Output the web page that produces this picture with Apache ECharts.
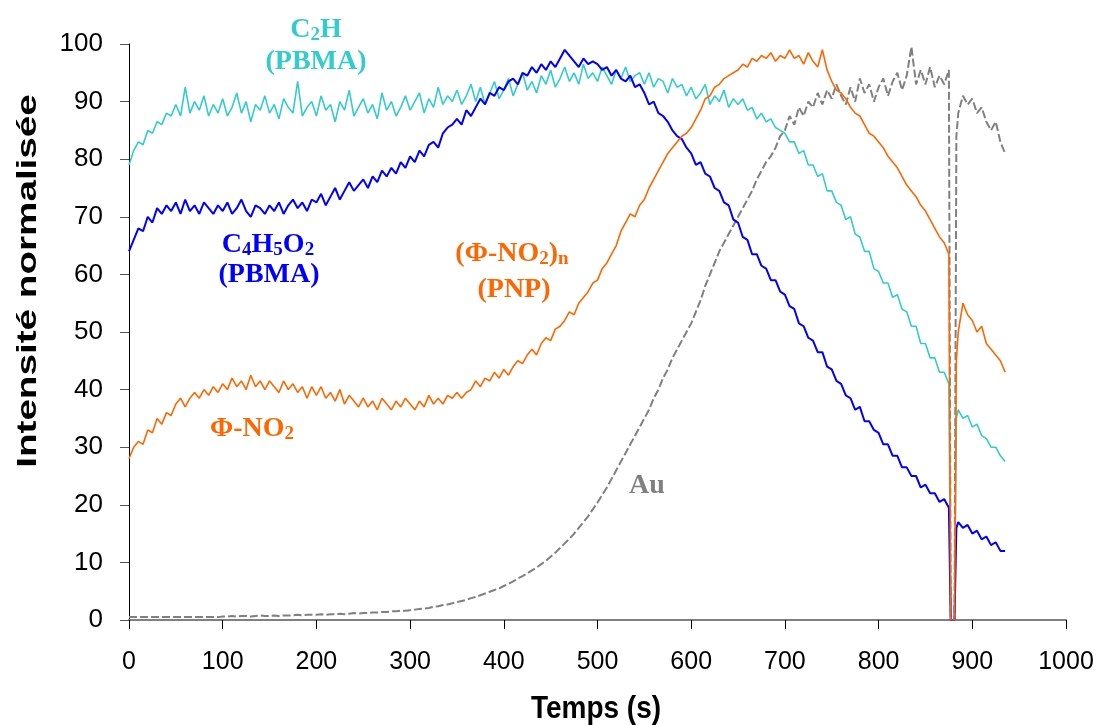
<!DOCTYPE html>
<html>
<head>
<meta charset="utf-8">
<script src="https://cdn.jsdelivr.net/npm/echarts@6/dist/echarts.min.js"></script>
<style>
html,body{margin:0;padding:0;background:#fff;}
#chart{width:1101px;height:725px;}
</style>
</head>
<body>
<div id="chart"></div>
<script>
// Sampling grid (s): regular 5 s steps up to 870 s, then the points around the signal drop
const timeGrid = [];
for (let s = 0; s <= 870; s += 5) timeGrid.push(s);
const timeTail = [875, 877, 881, 883, 885, 890, 895, 900, 905, 910, 915, 920, 925, 930, 935];
const time = timeGrid.concat(timeTail);

const xTicks = [0, 100, 200, 300, 400, 500, 600, 700, 800, 900, 1000];
const yTicks = [0, 10, 20, 30, 40, 50, 60, 70, 80, 90, 100];

// C2H (PBMA)
const c2h = [
  79, 81.5, 83, 82.5, 85, 84.5, 86.5, 86, 88, 87.5,
  89.5, 87.5, 92.5, 88, 90, 88.5, 91, 87.5, 89.5, 88,
  90.5, 87.5, 89, 91.5, 88, 90, 86.5, 89.5, 88.5, 91,
  88, 89.5, 87, 90.5, 89, 88, 93.5, 87.5, 89, 90,
  87.5, 91, 88.5, 89.5, 86.5, 90, 88.5, 92, 87.5, 89,
  90.5, 88, 89.5, 87, 91.5, 88.5, 90, 87.5, 89, 91,
  88.5, 90, 91.5, 88, 90.5, 89, 92.5, 89.5, 91, 90,
  92, 89.5, 91, 93, 90, 92.5, 89.5, 91.5, 93.5, 90.5,
  92, 94, 91, 93, 95, 92, 93.5, 91.5, 94.5, 93,
  95.5, 92.5, 94, 96, 93.5, 95, 93, 96.5, 94, 95,
  93.5, 96, 94.5, 93, 95.5, 94, 96, 93.5, 94.5, 95,
  93, 95, 92.5, 94, 93.5, 91.5, 94, 92.5, 93, 91,
  92.5, 90.5, 91.5, 93, 89.5, 91, 90, 92, 89, 90.5,
  89.5, 90.5, 88.5, 89, 87, 88, 86.5, 87, 85.5, 85,
  84.5, 83, 83, 81, 81.5, 79, 79, 77, 77.5, 74.5,
  74.5, 72.5, 72, 69.5, 70, 67, 66.5, 64, 64, 61,
  60.5, 58.5, 58.5, 56, 56.5, 54, 53.5, 51, 51, 48,
  48, 45.5, 45.5, 43, 43,
  41, 0, 0, 35, 36.5, 35, 35.5, 33.5, 34, 32, 31.5, 30, 30, 28.5, 27.5
];

// C4H5O2 (PBMA)
const c4h5o2 = [
  64, 66, 68, 67.5, 70, 69, 71.5, 70.5, 72, 71,
  72.5, 70.5, 73, 71, 72, 70.5, 72.5, 71.5, 70.5, 72,
  71, 72.5, 70.5, 71.5, 73, 71, 70, 72, 71.5, 70.5,
  72, 71, 72.5, 70.5, 72, 73, 71.5, 72.5, 71, 73,
  72.5, 74, 72, 73.5, 75, 73, 74.5, 76, 74.5, 75.5,
  76.5, 75, 77, 76, 78, 77, 78.5, 77.5, 79.5, 78.5,
  80.5, 79.5, 81.5, 80.5, 82.5, 83, 82, 84.5, 85.5, 86,
  87, 86, 88.5, 87.5, 89, 90.5, 89.5, 91.5, 91, 92.5,
  92, 93.5, 94, 93, 95, 94.5, 96, 95, 96.5, 95.5,
  97, 96, 97.5, 99, 98, 97, 96, 97.5, 96.5, 97,
  96.5, 95.5, 96, 94.5, 95.5, 94, 93.5, 94.5, 92.5, 93,
  91.5, 89.5, 90, 88, 87.5, 86.5, 85, 84, 83.5, 82,
  81, 79, 79.5, 77.5, 77, 75, 74.5, 72.5, 72, 69.5,
  69, 66.5, 66, 63.5, 63.5, 61.5, 61, 59, 59, 57,
  56.5, 54.5, 54, 51.5, 51, 49, 48.5, 46.5, 46.5, 44,
  43.5, 41.5, 41, 39, 38.5, 36.5, 37, 34.5, 34.5, 33,
  32.5, 30.5, 30.5, 28.5, 28.5, 26.5, 26.5, 25, 25, 23,
  23.5, 22, 22, 20.5, 21,
  19.5, 0, 0, 16, 17, 16, 16.5, 15, 15.5, 14, 14.5, 13, 13.5, 12, 12
];

// Φ-NO2 / (Φ-NO2)n (PNP)
const phiNO2 = [
  28, 30, 31, 30.5, 33, 32.5, 35, 34, 36, 35.5,
  37.5, 38.5, 37, 38.5, 39.5, 38.5, 40, 39, 40.5, 39.5,
  41, 40, 42, 40.5, 41.5, 40, 42.5, 40.5, 41.5, 40,
  41.5, 40.5, 39.5, 41.5, 40, 41, 39.5, 40.5, 38.5, 40.5,
  39, 40.5, 38.5, 39.5, 38, 40, 37.5, 39, 38, 37,
  38.5, 37, 38, 36.5, 38.5, 37.5, 36.5, 38, 37, 38.5,
  37.5, 36.5, 38, 37, 39, 37.5, 38.5, 37.5, 39, 38.5,
  39.5, 38.5, 39.5, 40, 41.5, 40.5, 42, 41.5, 43, 42,
  43.5, 42.5, 44, 45, 44.5, 46, 47, 46, 48, 49,
  48.5, 50.5, 51, 52, 53.5, 53, 55, 56, 57, 58.5,
  59, 61, 62, 63.5, 65, 67.5, 69, 70.5, 70, 72,
  73, 75, 76.5, 78, 79.5, 81, 82, 83, 84, 84.5,
  85.5, 87, 88.5, 90.5, 91, 92.5, 93, 94, 94.5, 95,
  95.5, 96.5, 96, 97.5, 97, 98, 97.5, 98.5, 97, 98,
  97.5, 99, 97.5, 98, 96.5, 98.5, 97, 96, 99, 95.5,
  93.5, 92, 91.5, 90.5, 89, 88, 87.5, 86, 84.5, 84,
  83, 82, 80.5, 79.5, 78.5, 77, 75.5, 74.5, 73.5, 72,
  71, 69.5, 68, 66.5, 65.5,
  63.5, 0, 0, 45, 50, 55, 53, 52, 50, 51, 48, 47, 46, 45, 43
];

// Au
const au = [
  0.5, 0.5, 0.5, 0.5, 0.5, 0.5, 0.5, 0.5, 0.5, 0.5,
  0.5, 0.5, 0.5, 0.5, 0.5, 0.5, 0.5, 0.5, 0.5, 0.5,
  0.6, 0.6, 0.7, 0.6, 0.7, 0.7, 0.6, 0.7, 0.8, 0.7,
  0.7, 0.8, 0.7, 0.8, 0.8, 0.8, 0.9, 0.8, 0.9, 0.9,
  0.9, 1, 0.9, 1, 1, 1.1, 1, 1.1, 1.2, 1.1,
  1.2, 1.2, 1.3, 1.3, 1.4, 1.4, 1.5, 1.5, 1.6, 1.6,
  1.7, 1.8, 1.9, 2, 2.1, 2.3, 2.4, 2.6, 2.7, 2.9,
  3.1, 3.3, 3.5, 3.8, 4, 4.3, 4.6, 4.9, 5.2, 5.5,
  5.9, 6.3, 6.7, 7.2, 7.6, 8.1, 8.6, 9.1, 9.7, 10.3,
  11, 11.7, 12.5, 13.3, 14.1, 15, 16, 17, 18, 19.2,
  20.4, 21.7, 23, 24.5, 26, 27.5, 29, 30.5, 32, 33.5,
  35, 36.5, 38.5, 40, 42, 43.5, 45.5, 47, 48.5, 50,
  51.5, 53.5, 55.5, 58, 60, 62, 64, 65.5, 67, 68.5,
  70, 71.5, 73, 74.5, 76.5, 78, 79.5, 80.5, 82, 84,
  85, 87.5, 86, 89, 87.5, 90, 89, 91.5, 89.5, 92,
  90.5, 93, 91, 89.5, 92.5, 90, 94, 91.5, 93, 90,
  92.5, 94, 91, 93.5, 95, 92, 94.5, 99.5, 93, 95.5,
  93, 96, 92.5, 94.5, 93,
  95.5, 0, 0, 84, 88, 91, 89.5, 90.5, 88, 89, 86.5, 85, 86.5, 83, 81
];

const colCyan = '#33CCCC';
const colBlue = '#0000FF';
const colOrange = '#FF6600';
const colGray = '#808080';

const pairs = vals => vals.map((v, i) => [time[i], v]);

const chart = echarts.init(document.getElementById('chart'), null, {renderer: 'canvas'});

const serif = '"Liberation Serif", "Times New Roman", serif';
function lab(text, x, y, color) {
  const rich = {
    m: {fill: color, fontFamily: serif, fontWeight: 'bold', fontSize: 28, lineHeight: 30},
    s: {fill: color, fontFamily: serif, fontWeight: 'bold', fontSize: 19, lineHeight: 6, verticalAlign: 'bottom'}
  };
  return {type: 'text', x: x, y: y, z: 100,
    style: {text: text, rich: rich, fill: color, align: 'center', verticalAlign: 'middle',
      fontFamily: serif, fontWeight: 'bold', fontSize: 28}};
}

chart.setOption({
  animation: false,
  backgroundColor: '#ffffff',
  grid: {left: 129, right: 35, top: 44, bottom: 105, containLabel: false},
  xAxis: {
    type: 'value', min: xTicks[0], max: xTicks[xTicks.length - 1], interval: 100,
    axisLine: {show: true, onZero: false, lineStyle: {color: '#808080', width: 2}},
    axisTick: {show: true, inside: false, length: 9, lineStyle: {color: '#000', width: 1}},
    axisLabel: {fontFamily: '"Liberation Sans", Arial, sans-serif', fontSize: 25, color: '#000', margin: 30,
      formatter: v => String(v)},
    splitLine: {show: false}
  },
  yAxis: {
    type: 'value', min: yTicks[0], max: yTicks[yTicks.length - 1], interval: 10,
    axisLine: {show: true, onZero: false, lineStyle: {color: '#000', width: 1}},
    axisTick: {show: true, inside: false, length: 9, lineStyle: {color: '#555', width: 1}},
    axisLabel: {fontFamily: '"Liberation Sans", Arial, sans-serif', fontSize: 26, color: '#000', margin: 26,
      formatter: v => String(v)},
    splitLine: {show: false}
  },
  series: [
    {name: 'Au', type: 'line', data: pairs(au), showSymbol: false, symbol: 'none',
      lineStyle: {color: colGray, width: 2, type: [8, 3]}, z: 2},
    {name: 'C2H (PBMA)', type: 'line', data: pairs(c2h), showSymbol: false, symbol: 'none',
      lineStyle: {color: colCyan, width: 1.6}, z: 3},
    {name: 'C4H5O2 (PBMA)', type: 'line', data: pairs(c4h5o2), showSymbol: false, symbol: 'none',
      lineStyle: {color: colBlue, width: 2}, z: 4},
    {name: 'Φ-NO2', type: 'line', data: pairs(phiNO2), showSymbol: false, symbol: 'none',
      lineStyle: {color: colOrange, width: 1.6}, z: 5}
  ],
  graphic: [
    {type: 'text', x: 28, y: 281, rotation: Math.PI / 2, scaleX: 1.38, z: 100,
      style: {text: 'Intensité normalisée', font: 'bold 28px "Liberation Sans", Arial, sans-serif',
        fill: '#000', align: 'center', verticalAlign: 'middle'}},
    {type: 'text', x: 596, y: 709, scaleY: 1.15, z: 100,
      style: {text: 'Temps (s)', font: 'bold 28px "Liberation Sans", Arial, sans-serif',
        fill: '#000', align: 'center', verticalAlign: 'middle'}},
    lab('{m|C}{s|2}{m|H}', 316, 30, colCyan),
    lab('{m|(PBMA)}', 316, 62, colCyan),
    lab('{m|C}{s|4}{m|H}{s|5}{m|O}{s|2}', 268, 245, colBlue),
    lab('{m|(PBMA)}', 269, 275, colBlue),
    lab('{m|(Φ-NO}{s|2}{m|)}{s|n}', 512, 254, colOrange),
    lab('{m|(PNP)}', 514, 290, colOrange),
    lab('{m|Φ-NO}{s|2}', 252, 429, colOrange),
    lab('{m|Au}', 647, 486, colGray)
  ]
});
</script>
</body>
</html>
